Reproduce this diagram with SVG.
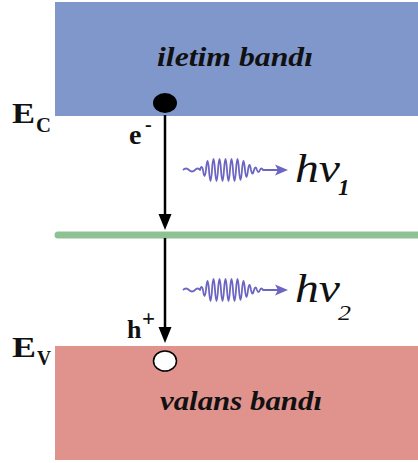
<svg xmlns="http://www.w3.org/2000/svg" width="418" height="463" viewBox="0 0 418 463">
<defs>
<style>
.band-lbl{font-family:"Liberation Serif",serif;font-weight:bold;font-style:italic;font-size:27px;fill:#111}
.lvl{font-family:"Liberation Serif",serif;font-weight:bold;fill:#111}
.hv{font-family:"Liberation Serif",serif;font-style:italic;fill:#111}
.wave{fill:none;stroke:#6c65c2;stroke-width:1.8;stroke-linejoin:round}
.conn{stroke:#000;stroke-width:2.5;fill:none}
</style>
<path id="wv" d="M183 0 q3 -3 6 0 q3 3 6 0 q2.5 -3 5 0 q1.5 -6 3 0 q1.5 12 3 0 q1.5 -18 3 0 q1.5 22 3 0 q1.5 -22 3 0 q1.5 22 3 0 q1.5 -22 3 0 q1.5 22 3 0 q1.5 -22 3 0 q1.5 22 3 0 q1.5 -22 3 0 q1.5 22 3 0 q1.5 -22 3 0 q1.5 20 3 0 q1.5 -18 3 0 q1.5 14 3 0 q1.5 -10 3 0 q1.5 7 3 0 q1.5 -5 3 0 q1.5 4 3 0 q1.5 -3 3 0 L278 0"/>
</defs>

<g id="conduction-band">
<rect x="55" y="2" width="363" height="114" fill="#8097cc"/>
<text class="band-lbl" x="157" y="66" textLength="156" lengthAdjust="spacingAndGlyphs">iletim bandı</text>
</g>

<g id="valence-band">
<rect x="55" y="346" width="363" height="114" fill="#e0928d"/>
<text class="band-lbl" x="160" y="410" textLength="162" lengthAdjust="spacingAndGlyphs">valans bandı</text>
</g>

<g id="defect-level">
<line x1="58" y1="235" x2="418" y2="235" stroke="#8fc293" stroke-width="7" stroke-linecap="round"/>
</g>

<g id="label-Ec">
<text class="lvl" x="12" y="123" font-size="29" textLength="23" lengthAdjust="spacingAndGlyphs">E</text>
<text class="lvl" x="36" y="132" font-size="21" textLength="15" lengthAdjust="spacingAndGlyphs">C</text>
</g>
<g id="label-Ev">
<text class="lvl" x="12" y="357" font-size="29" textLength="24" lengthAdjust="spacingAndGlyphs">E</text>
<text class="lvl" x="37" y="365" font-size="21" textLength="14" lengthAdjust="spacingAndGlyphs">V</text>
</g>

<g id="electron">
<ellipse cx="165" cy="103" rx="12" ry="10" fill="#000"/>
<text class="lvl" font-size="28"><tspan x="129" y="144">e</tspan><tspan x="145" y="131" font-size="20">-</tspan></text>
</g>

<g id="hole">
<ellipse cx="165" cy="361" rx="11.5" ry="10" fill="#fff" stroke="#000" stroke-width="1.5"/>
<text class="lvl" font-size="26"><tspan x="127" y="338">h</tspan><tspan x="142" y="326" font-size="23">+</tspan></text>
</g>

<g id="connectors">
<line class="conn" x1="165" y1="115" x2="165" y2="218"/>
<polygon points="158.5,214 171.5,214 165,230" fill="#000"/>
<line class="conn" x1="165" y1="238" x2="165" y2="331"/>
<polygon points="158.5,327 171.5,327 165,343" fill="#000"/>
</g>

<g id="photon-1">
<use href="#wv" class="wave" transform="translate(0,170)"/>
<polygon points="275,164.5 288,170 275,175.5 278,170" fill="#6c65c2"/>
<text class="hv" font-size="40"><tspan x="295" y="182" textLength="45" lengthAdjust="spacingAndGlyphs">hν</tspan><tspan x="338" y="195" font-size="23" font-weight="bold">1</tspan></text>
</g>

<g id="photon-2">
<use href="#wv" class="wave" transform="translate(0,290)"/>
<polygon points="275,284.5 288,290 275,295.5 278,290" fill="#6c65c2"/>
<text class="hv" font-size="40"><tspan x="295" y="302" textLength="45" lengthAdjust="spacingAndGlyphs">hν</tspan><tspan x="338" y="320" font-size="22" textLength="13" lengthAdjust="spacingAndGlyphs">2</tspan></text>
</g>
</svg>
